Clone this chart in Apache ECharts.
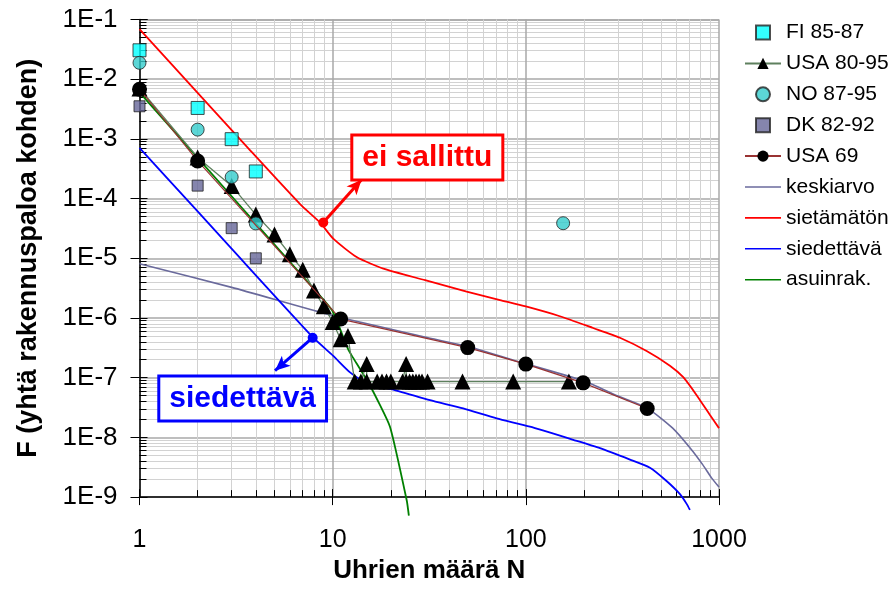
<!DOCTYPE html>
<html><head><meta charset="utf-8">
<script src="https://cdn.jsdelivr.net/npm/echarts@6/dist/echarts.min.js"></script>
<style>html,body{margin:0;padding:0;background:#fff}#c{width:891px;height:589px}</style>
</head><body><div id="c"></div>
<script>
// ---- tick labels ----
const xTickLabels = ['1', '10', '100', '1000'];
const yTickLabels = ['1E-9', '1E-8', '1E-7', '1E-6', '1E-5', '1E-4', '1E-3', '1E-2', '1E-1'];

// ---- data series (N = uhrien määrä, F = frequency) ----
const fiN = [1, 2, 3, 4];
const fiF = [3.05e-2, 3.3e-3, 9.9e-4, 2.85e-4];

const noN = [1, 2, 3, 4, 156];
const noF = [1.88e-2, 1.43e-3, 2.3e-4, 3.83e-5, 3.87e-5];

const dkN = [1, 2, 3, 4];
const dkF = [3.52e-3, 1.65e-4, 3.2e-5, 1.0e-5];

const usa69N = [1, 2, 11, 50, 100, 198, 425];
const usa69F = [6.8e-3, 4.27e-4, 9.6e-7, 3.19e-7, 1.69e-7, 8.2e-8, 3.05e-8];

const usa8095N = [1, 2, 3, 4, 5, 6, 7, 8, 9, 10, 11, 12, 13, 14, 15, 15, 17, 18, 19, 20, 23, 24, 24, 25, 26, 27, 28, 29, 31, 47, 86, 167];
const usa8095F = [7e-3, 4.9e-4, 1.63e-4, 5.4e-5, 2.5e-5, 1.17e-5, 6.4e-6, 2.9e-6, 1.57e-6, 8.6e-7, 4.4e-7, 5.0e-7,
  8.6e-8, 8.6e-8, 1.7e-7, 8.6e-8, 8.6e-8, 8.6e-8, 8.6e-8, 8.6e-8, 8.6e-8, 1.7e-7, 8.6e-8, 8.6e-8, 8.6e-8, 8.6e-8,
  8.6e-8, 8.6e-8, 8.6e-8, 8.6e-8, 8.6e-8, 8.6e-8];

const keskiN = [1, 3, 10, 30, 50, 100, 200, 300, 425, 574, 707, 823, 915, 1000];
const keskiF = [8.1e-6, 3.26e-6, 1.1e-6, 4.8e-7, 3.34e-7, 1.71e-7, 8.8e-8, 4.93e-8, 3.1e-8, 1.44e-8, 6.7e-9, 3.5e-9, 2.1e-9, 1.47e-9];

const sietamatonN = [1, 2, 3.66, 6.8, 8.6, 10.1, 13.3, 18.3, 30.1, 49.4, 73.5, 100, 150, 223, 307, 422, 557, 653, 766, 898, 1000];
const sietamatonF = [6.9e-2, 5.9e-3, 6.93e-4, 8e-5, 3.98e-5, 2.11e-5, 1.05e-5, 6.7e-6, 4.3e-6, 2.77e-6, 2.0e-6, 1.56e-6,
  1.07e-6, 6.8e-7, 4.67e-7, 2.8e-7, 1.59e-7, 1.02e-7, 5.1e-8, 2.37e-8, 1.43e-8];

const siedettavaN = [1, 2, 2.94, 7.94, 10.07, 12.3, 15.6, 19.8, 31.9, 47.4, 70.6, 105, 176, 242, 346, 439, 535, 628, 680, 707];
const siedettavaF = [7.1e-4, 6.1e-5, 1.55e-5, 4.67e-7, 2.32e-7, 1.23e-7, 7.4e-8, 6.5e-8, 4.2e-8, 3.05e-8, 2.08e-8, 1.51e-8,
  9.1e-9, 6.6e-9, 4.25e-9, 3.1e-9, 1.86e-9, 1.12e-9, 7.7e-10, 6.1e-10];

const asuinN = [1, 2, 5, 8.4, 10, 12.0, 12.6, 15.6, 19.8, 24.2, 24.8];
const asuinF = [6.0e-3, 4.8e-4, 1.7e-5, 2.56e-6, 1.3e-6, 3.03e-7, 2.3e-7, 7.4e-8, 1.51e-8, 8.7e-10, 4.9e-10];

// ---- annotations (data coordinates) ----
const eiSallittuDot = [8.94, 3.98e-5];
const eiSallittuArrow = [14.1, 2.07e-4];
const eiSallittuBox = [30.9, 4.9e-4];
const siedettavaDot = [7.88, 4.67e-7];
const siedettavaArrow = [5.03, 1.31e-7];
const siedettavaBox = [3.42, 4.5e-8];

const pairs = (xs, ys) => xs.map((x, i) => [x, ys[i]]);
const FONT = "'Liberation Sans', Arial, sans-serif";
const SQ = 'path://M0,0H10V10H0Z';
const LN = 'path://M0,0H36V1.6H0Z';

const chart = echarts.init(document.getElementById('c'), null, { renderer: 'canvas' });

const xLabel = v => xTickLabels[Math.round(Math.log10(v))];
const yLabel = v => yTickLabels[Math.round(Math.log10(v)) + 9];

const baseX = { type: 'log', logBase: 10, min: 1, max: 1000, gridIndex: 0 };
const baseY = { type: 'log', logBase: 10, min: 1e-9, max: 1e-1, gridIndex: 0 };

function boxLabel(text, color) {
  return {
    show: true, position: 'inside', formatter: text, color: color,
    fontFamily: FONT, fontSize: 30, fontWeight: 'bold', lineHeight: 32,
    backgroundColor: '#fff', borderColor: color, borderWidth: 3,
    padding: [6, 9, 4, 9]
  };
}

chart.setOption({
  animation: false,
  backgroundColor: '#ffffff',
  grid: { left: 139.5, right: 172, top: 19.5, bottom: 86, containLabel: false },
  legend: {
    orient: 'vertical', left: 744, top: 22, itemWidth: 36, itemHeight: 14, itemGap: 9.9,
    padding: 0, selectedMode: false,
    textStyle: { fontFamily: FONT, fontSize: 21, color: '#000' },
    data: [
      { name: 'FI 85-87', icon: SQ },
      { name: 'USA 80-95' },
      { name: 'NO 87-95', icon: 'circle' },
      { name: 'DK 82-92', icon: SQ },
      { name: 'USA 69' },
      { name: 'keskiarvo', icon: LN },
      { name: 'sietämätön', icon: LN },
      { name: 'siedettävä', icon: LN },
      { name: 'asuinrak.', icon: LN }
    ]
  },
  xAxis: [
    Object.assign({}, baseX, {
      position: 'bottom',
      name: 'Uhrien määrä N', nameLocation: 'middle', nameGap: 60,
      nameTextStyle: { fontFamily: FONT, fontSize: 26, fontWeight: 'bold', color: '#000' },
      axisLine: { show: true, lineStyle: { color: '#000', width: 1.5 } },
      axisTick: { show: true, inside: false, length: 8, lineStyle: { color: '#000' } },
      minorTick: { show: false, splitNumber: 9 },
      axisLabel: { formatter: xLabel, fontFamily: FONT, fontSize: 25, color: '#000', margin: 31 },
      splitLine: { show: true, lineStyle: { color: '#a8a8a8', width: 1.5 } },
      minorSplitLine: { show: true, lineStyle: { color: '#d2d2d2', width: 1 } }
    }),
    Object.assign({}, baseX, {
      position: 'bottom',
      axisLine: { show: false },
      axisLabel: { show: false },
      axisTick: { show: true, inside: true, length: 8, lineStyle: { color: '#000' } },
      minorTick: { show: true, splitNumber: 9, length: 7, lineStyle: { color: '#000' } },
      splitLine: { show: false }
    })
  ],
  yAxis: [
    Object.assign({}, baseY, {
      position: 'left',
      name: 'F (yhtä rakennuspaloa kohden)', nameLocation: 'middle', nameGap: 97,
      nameTextStyle: { fontFamily: FONT, fontSize: 27, fontWeight: 'bold', color: '#000' },
      axisLine: { show: true, lineStyle: { color: '#000', width: 1.5 } },
      axisTick: { show: true, inside: false, length: 9, lineStyle: { color: '#000' } },
      minorTick: { show: false, splitNumber: 9 },
      axisLabel: { formatter: yLabel, fontFamily: FONT, fontSize: 26, color: '#000', margin: 22 },
      splitLine: { show: true, lineStyle: { color: '#a8a8a8', width: 1.5 } },
      minorSplitLine: { show: true, lineStyle: { color: '#d2d2d2', width: 1 } }
    }),
    Object.assign({}, baseY, {
      position: 'left',
      axisLine: { show: false },
      axisLabel: { show: false },
      axisTick: { show: true, inside: true, length: 8, lineStyle: { color: '#000' } },
      minorTick: { show: true, splitNumber: 9, length: 7, lineStyle: { color: '#000' } },
      splitLine: { show: false }
    })
  ],
  series: [
    {
      name: 'FI 85-87', type: 'scatter', z: 5, symbol: 'rect', symbolSize: 13,
      itemStyle: { color: '#00FFFF', borderColor: '#222', borderWidth: 1 },
      data: pairs(fiN, fiF)
    },
    {
      name: 'USA 80-95', type: 'line', z: 4, symbol: 'triangle', symbolSize: 16, showAllSymbol: true,
      itemStyle: { color: '#000' }, lineStyle: { color: '#5e805e', width: 1.3 },
      data: pairs(usa8095N, usa8095F)
    },
    {
      name: 'NO 87-95', type: 'scatter', z: 5, symbol: 'circle', symbolSize: 13,
      itemStyle: { color: '#33CCCC', borderColor: '#222', borderWidth: 1 },
      data: pairs(noN, noF)
    },
    {
      name: 'DK 82-92', type: 'scatter', z: 5, symbol: 'rect', symbolSize: 11,
      itemStyle: { color: '#666699', borderColor: '#222', borderWidth: 1 },
      data: pairs(dkN, dkF)
    },
    {
      name: 'USA 69', type: 'line', z: 6, symbol: 'circle', symbolSize: 15, showAllSymbol: true,
      itemStyle: { color: '#000' }, lineStyle: { color: '#993333', width: 1.2 },
      data: pairs(usa69N, usa69F)
    },
    {
      name: 'keskiarvo', type: 'line', z: 3, symbol: 'none', smooth: 0.2,
      itemStyle: { color: '#6a6a9c' }, lineStyle: { color: '#6a6a9c', width: 1.6 },
      data: pairs(keskiN, keskiF)
    },
    {
      name: 'sietämätön', type: 'line', z: 3, symbol: 'none', smooth: 0.2,
      itemStyle: { color: '#ff0000' }, lineStyle: { color: '#ff0000', width: 1.8 },
      data: pairs(sietamatonN, sietamatonF),
      markLine: {
        silent: true, symbol: ['circle', 'arrow'], symbolSize: [10, 15], animation: false,
        lineStyle: { color: '#ff0000', width: 3, type: 'solid' }, label: { show: false },
        data: [[{ coord: eiSallittuDot }, { coord: eiSallittuArrow }]]
      },
      markPoint: {
        silent: true, animation: false, symbol: 'circle', symbolSize: 1,
        itemStyle: { color: 'rgba(0,0,0,0)' },
        data: [{ coord: eiSallittuBox, label: boxLabel('ei sallittu', '#ff0000') }]
      }
    },
    {
      name: 'siedettävä', type: 'line', z: 3, symbol: 'none', clip: false, smooth: 0.2,
      itemStyle: { color: '#0000ff' }, lineStyle: { color: '#0000ff', width: 1.8 },
      data: pairs(siedettavaN, siedettavaF),
      markLine: {
        silent: true, symbol: ['circle', 'arrow'], symbolSize: [10, 15], animation: false,
        lineStyle: { color: '#0000ff', width: 3, type: 'solid' }, label: { show: false },
        data: [[{ coord: siedettavaDot }, { coord: siedettavaArrow }]]
      },
      markPoint: {
        silent: true, animation: false, symbol: 'circle', symbolSize: 1,
        itemStyle: { color: 'rgba(0,0,0,0)' },
        data: [{ coord: siedettavaBox, label: boxLabel('siedettävä', '#0000ff') }]
      }
    },
    {
      name: 'asuinrak.', type: 'line', z: 3, symbol: 'none', clip: false, smooth: 0.15,
      itemStyle: { color: '#008000' }, lineStyle: { color: '#008000', width: 1.8 },
      data: pairs(asuinN, asuinF)
    }
  ]
});
</script>
</body></html>
